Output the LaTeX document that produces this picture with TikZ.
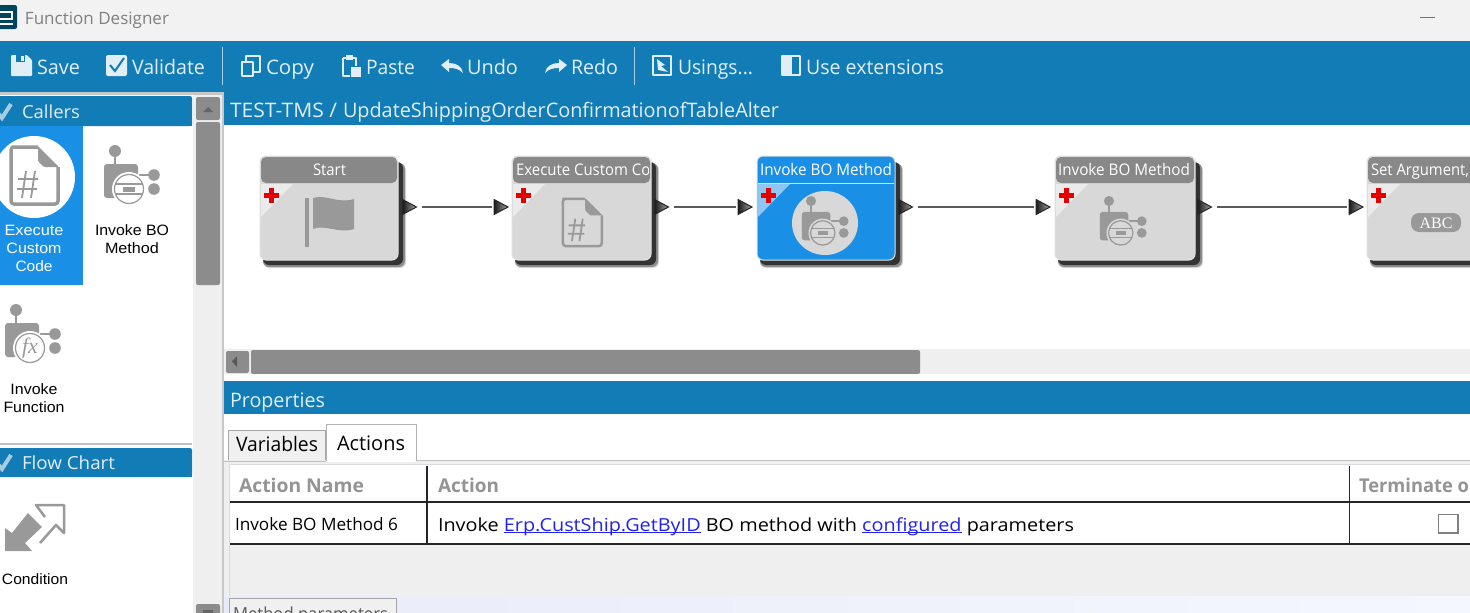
\documentclass[tikz,border=0pt]{standalone}
\usepackage{fontspec}
\usepackage{graphicx}
\setmainfont{Open Sans}
\newfontfamily\arialf{Liberation Sans}
\newfontfamily\timesf{Liberation Serif}
\usetikzlibrary{shapes.geometric}
\definecolor{barblue}{HTML}{127CB7}
\definecolor{selblue}{HTML}{1A8FE6}
\definecolor{iconA}{HTML}{999999}
\definecolor{panelg}{HTML}{EFEFEF}
\definecolor{thumbg}{HTML}{8C8C8C}
\definecolor{cardg}{HTML}{D8D8D8}
\definecolor{headg}{HTML}{888888}
\definecolor{paleT}{HTML}{E2EEF5}
\definecolor{linkb}{HTML}{2222EE}
\definecolor{lav}{HTML}{E9ECF8}
\definecolor{lavb}{HTML}{F4F7FD}
\newcommand{\fitw}[2]{\resizebox{#1pt}{\height}{#2}}
\newcommand{\fs}[1]{\fontsize{#1}{#1}\selectfont}
\newcommand{\linku}[1]{\setbox0\hbox{#1}\rlap{\rule[-2pt]{\wd0}{0.9pt}}\box0}
\tikzset{
  lbl/.style={inner sep=0pt,outer sep=0pt,anchor=base west,font=\fs{20}},
  pal/.style={inner sep=0pt,outer sep=0pt,anchor=base,font=\arialf\fs{15}},
  cardtitle/.style={inner sep=0pt,outer sep=0pt,anchor=base west,font=\fs{16},text=white},
  port/.style={isosceles triangle,isosceles triangle stretches,minimum height=14pt,minimum width=15pt,inner sep=0pt,outer sep=2pt,draw=black!85,line width=1pt,left color=black!90,right color=black!35},
  wire/.style={draw=black!65,line width=1.6pt},
  btn/.style={fill=thumbg,rounded corners=2pt},
  ticon/.style={draw=paleT,line width=1.6pt,line join=round},
  tfill/.style={fill=paleT}
}
% BO-type icon: origin at the top ball, centre of ball
\newcommand{\roboticon}[4]{% x y scale colour
  \begin{scope}[shift={(#1,#2)},scale=#3]
    \fill[#4] (0,0) circle (6);
    \draw[#4,line width=2pt] (0,5) -- (0,13);
    \fill[#4,rounded corners=3pt] (-11,13) rectangle (23,47);
    \draw[#4,line width=1.4pt] (24,24) -- (36,24);
    \fill[#4] (39,24) circle (5.8);
    \fill[#4] (39,38) circle (5.8);
  \end{scope}}
\newcommand{\ringover}[4]{% x y scale backcolour
  \begin{scope}[shift={(#1,#2)},scale=#3]
    \fill[#4] (14,38) circle (17);
    \draw[iconA,line width=1.2pt] (14,38) circle (14.5);
  \end{scope}}
\newcommand{\boinner}[3]{%
  \begin{scope}[shift={(#1,#2)},scale=#3]
    \draw[iconA,line width=1.2pt] (1,33) -- (27,33) (1,43) -- (27,43);
    \fill[iconA] (8,35.5) rectangle (20,40.5);
  \end{scope}}
\newcommand{\docicon}[4]{% x y scale width
  \begin{scope}[shift={(#1,#2)},scale=#3]
    \draw[iconA,line width=#4,line join=round,rounded corners=3pt] (28,1) -- (5,1) -- (1,1) -- (1,58) -- (48,58) -- (48,21);
    \fill[iconA,rounded corners=1pt] (28,0) -- (28,15) -- (34,21) -- (49,21) -- cycle;
    \draw[iconA,line width=1.8pt] (16,25) -- (12,52) (25,25) -- (21,52) (8,33) -- (28,33) (7,43) -- (27,43);
  \end{scope}}
\newcommand{\redcross}[2]{%
  \fill[red!90!black] (#1-7.5,#2-2.5) rectangle (#1+7.5,#2+2.5);
  \fill[red!90!black] (#1-2.5,#2-7.5) rectangle (#1+2.5,#2+7.5);}
% card: name, left, right, body colour, header colour, triangle colour
\newcommand{\cardbox}[6]{%
  \fill[black!15,rounded corners=6pt] (#2+3,164) rectangle (#3+8,268);
  \fill[black!45,rounded corners=6pt] (#2+3,163) rectangle (#3+7,267);
  \fill[black!80,rounded corners=6pt] (#2+3,162) rectangle (#3+5,265);
  \node[draw=black!12,line width=1pt,fill=#4,rounded corners=6pt,inner sep=0pt,minimum width=#3pt-#2pt,minimum height=104pt] (#1) at ({(#2+#3)/2},208) {};
  \fill[#5,rounded corners=5pt] (#2+1,157) -- (#3-1,157) -- (#3-1,183) -- (#2+1,183) -- cycle;
  \fill[#6] (#2+1,184) -- (#2+33,184) -- (#2+1,217) -- cycle;
  \redcross{#2+11}{195}}
\newcommand{\checkmk}[1]{\draw[paleT!70!barblue,line width=4pt] (-3,#1) -- (2,#1+6) -- (11,#1-8);}
\begin{document}
\begin{tikzpicture}[x=1pt,y=-1pt]
\useasboundingbox (0,0) rectangle (1470,613);
\clip (0,0) rectangle (1470,613);
% ---- window areas
\fill[white] (0,0) rectangle (1470,613);
\fill[black!5] (0,0) rectangle (1470,41);
\fill[barblue] (0,41) rectangle (1470,125);
% logo
\fill[teal!60!black!90!blue,rounded corners=2pt] (-4,5) rectangle (17,29);
\draw[white,line width=2.5pt] (-2,12) -- (12,12) -- (12,19) -- (-2,19) (-2,24) -- (13,24);
\node[lbl,font=\fs{17},text=black!50] (title) at (25,24) {\fitw{144}{Function Designer}};
\draw[black!55,line width=1pt] (1420,17) -- (1435,17);
% left panel
\fill[black!22] (0,92) rectangle (224,613);
\fill[white] (0,95) rectangle (193,613);
\fill[panelg] (193,95) rectangle (222,613);
\fill[barblue,rounded corners=2pt] (-4,96) rectangle (192,126);
\fill[barblue] (-4,110) rectangle (192,126);
\fill[selblue] (0,126) rectangle (83,285);
\fill[white] (34,177) circle (41);
\docicon{10}{146}{1}{3.5pt}
\node[pal,text=white] (p1a) at (34,235) {\fitw{59}{Execute}};
\node[pal,text=white] (p1b) at (34,253) {\fitw{55}{Custom}};
\node[pal,text=white] (p1c) at (34,271) {\fitw{37}{Code}};
\roboticon{115}{151}{1}{iconA}
\ringover{115}{151}{1}{white}
\boinner{115}{151}{1}
\node[pal] (p2a) at (132,235) {\fitw{74}{Invoke BO}};
\node[pal] (p2b) at (132,253) {\fitw{54}{Method}};
\roboticon{16}{310}{1}{iconA}
\ringover{16}{310}{1}{white}
\node[inner sep=0pt,font=\timesf\itshape\fs{22},text=iconA] (fx) at (30,348) {fx};
\node[pal] (p3a) at (34,394) {\fitw{47}{Invoke}};
\node[pal] (p3b) at (34,412) {\fitw{61}{Function}};
\draw[blue!20!black!25,line width=1.5pt] (0,444) -- (192,444);
\fill[barblue,rounded corners=2pt] (-4,448) rectangle (192,477);
\fill[barblue] (-4,462) rectangle (192,477);
\fill[iconA] (5,551) -- (5,528) -- (12,533) -- (28,513) -- (42,527) -- (25,543) -- (32,551) -- cycle;
\draw[iconA,line width=2.5pt,line join=round] (45,517) -- (36,505) -- (64,505) -- (64,533) -- (56,525) -- (40,543);
\node[pal] (p4) at (35,584) {\fitw{66}{Condition}};
\checkmk{112}
\node[lbl,font=\fs{18},text=paleT] (callers) at (22,118) {\fitw{58}{Callers}};
\checkmk{463}
\node[lbl,font=\fs{18},text=paleT] (flow) at (22,469) {\fitw{93}{Flow Chart}};
% vertical scrollbar
\fill[btn] (196,97) rectangle (220,120);
\fill[black!60] (203,112) -- (213,112) -- (208,107) -- cycle;
\fill[btn] (196,122) rectangle (220,285);
\fill[btn] (196,604) rectangle (220,620);
\fill[black!60] (203,610) rectangle (213,613);
% toolbar
\fill[tfill,rounded corners=1pt] (11,55) -- (27,55) -- (32,60) -- (32,76) -- (11,76) -- cycle;
\fill[barblue] (16,55) rectangle (25,62);
\fill[paleT] (21,56) rectangle (24,61);
\node[lbl,text=paleT] (save) at (37,74) {\fitw{43}{Save}};
\fill[tfill,rounded corners=2pt] (106,55) rectangle (127,76);
\draw[barblue,line width=2pt] (110,65) -- (115,71) -- (124,58);
\node[lbl,text=paleT] (validate) at (132,74) {\fitw{73}{Validate}};
\draw[paleT!70!barblue,line width=1pt] (222,47) -- (222,85);
\draw[ticon] (246,62) -- (246,56) -- (260,56) -- (260,72) -- (254,72);
\draw[ticon] (242,62) -- (253,62) -- (253,76) -- (242,76) -- cycle;
\node[lbl,text=paleT] (copy) at (266,74) {\fitw{48}{Copy}};
\draw[ticon] (343,58) -- (356,58) -- (356,66) (343,58) -- (343,76) -- (350,76);
\fill[tfill] (346,55) rectangle (353,60);
\fill[tfill] (351,67) rectangle (361,77);
\node[lbl,text=paleT] (paste) at (366,74) {\fitw{49}{Paste}};
\fill[tfill] (441,65) -- (449,59) -- (449,63) .. controls (456,63) and (462,66) .. (463,73) .. controls (459,69) and (455,68) .. (449,68) -- (449,72) -- cycle;
\node[lbl,text=paleT] (undo) at (467,74) {\fitw{51}{Undo}};
\fill[tfill] (567,65) -- (559,59) -- (559,63) .. controls (552,63) and (546,66) .. (545,73) .. controls (549,69) and (553,68) .. (559,68) -- (559,72) -- cycle;
\node[lbl,text=paleT] (redo) at (571,74) {\fitw{47}{Redo}};
\draw[paleT!70!barblue,line width=1pt] (634,47) -- (634,85);
\draw[ticon] (653,56) rectangle (671,75);
\fill[tfill] (657,59) -- (665,65) -- (661,66) -- (668,72) -- (658,70) -- cycle;
\node[lbl,text=paleT] (usings) at (678,74) {\fitw{75}{Usings...}};
\draw[ticon] (782,56) rectangle (800,75);
\fill[tfill] (782,56) rectangle (792,75);
\node[lbl,text=paleT] (ext) at (806,74) {\fitw{138}{Use extensions}};
\node[lbl,font=\fs{20},text=paleT] (crumb) at (230,117) {\fitw{107}{TEST-TMS /}\hspace{6pt}\fitw{436}{UpdateShippingOrderConfirmationofTableAlter}};
% canvas
\fill[white] (224,125) rectangle (1470,349);
\fill[panelg] (224,349) rectangle (1470,374);
\fill[btn] (226,351) rectangle (249,373);
\fill[black!65] (237,356) -- (237,367) -- (232,361.5) -- cycle;
\fill[btn] (251,350) rectangle (920,374);
% cards
\cardbox{c1}{260}{398}{cardg}{headg}{black!8}
\cardbox{c2}{512}{651}{cardg}{headg}{black!8}
\cardbox{c3}{757}{895}{selblue}{selblue}{selblue!50!white}
\draw[white!75!selblue,line width=1pt] (758,183.5) -- (894,183.5);
\cardbox{c4}{1055}{1195}{cardg}{headg}{black!8}
\cardbox{c5}{1367}{1510}{cardg}{headg}{black!8}
% titles
\node[cardtitle] (t1) at (313,175.5) {\fitw{33}{Start}};
\begin{scope}
  \clip (514,158) rectangle (648,182);
  \node[cardtitle] (t2) at (516,175.5) {\fitw{152}{Execute Custom Code}};
\end{scope}
\node[cardtitle] (t3) at (760,175.5) {\fitw{132}{Invoke BO Method}};
\node[cardtitle] (t4) at (1058,175.5) {\fitw{132}{Invoke BO Method}};
\node[cardtitle] (t5) at (1371,175.5) {\fitw{98}{Set Argument,}};
% card icons
\fill[iconA] (305,198) rectangle (309,247);
\fill[iconA] (313,198) .. controls (326,194) and (338,204) .. (354,199) -- (354,229) .. controls (338,234) and (326,224) .. (313,229) -- cycle;
\docicon{562}{198}{0.83}{2.5pt}
\fill[cardg] (825,223) ellipse (33 and 32);
\roboticon{811}{201}{0.84}{iconA}
\ringover{811}{201}{0.84}{cardg}
\boinner{811}{201}{0.84}
\roboticon{1109}{201}{0.84}{iconA}
\ringover{1109}{201}{0.84}{cardg}
\boinner{1109}{201}{0.84}
\fill[iconA,rounded corners=8pt] (1411,213) rectangle (1461,232);
\node[inner sep=0pt,font=\timesf\fs{16},text=white] (abc) at (1436,223) {ABC};
% ports and connectors
\node[port] (o1) at (407,207) {};
\node[port] (i2) at (498.5,207) {};
\node[port] (o2) at (659,207) {};
\node[port] (i3) at (742.5,207) {};
\node[port] (o3) at (903,207) {};
\node[port] (i4) at (1040.5,207) {};
\node[port] (o4) at (1202,207) {};
\node[port] (i5) at (1353.5,207) {};
\draw[wire] (o1) -- (i2);
\draw[wire] (o2) -- (i3);
\draw[wire] (o3) -- (i4);
\draw[wire] (o4) -- (i5);
% properties
\fill[white] (224,374) rectangle (1470,381);
\fill[barblue] (224,381) rectangle (1470,414);
\fill[white] (224,414) rectangle (1470,596);
\node[lbl,text=paleT] (props) at (230,407) {\fitw{95}{Properties}};
\fill[panelg] (224,460) rectangle (1470,596);
\draw[black!25,line width=1pt] (416,460.5) -- (1470,460.5);
\draw[black!35,fill=black!6,line width=1pt] (228,460) -- (228,430) -- (325,430) -- (325,460);
\node[lbl] (tv) at (236,451) {\fitw{82}{Variables}};
\draw[black!30,fill=white,line width=1pt] (326,461) -- (326,424) -- (416,424) -- (416,461);
\fill[white] (327,459) rectangle (415,462);
\node[lbl] (ta) at (337,450) {\fitw{68}{Actions}};
\draw[black!25,line width=1pt] (224,461) -- (326,461);
% table
\fill[white] (230,464) rectangle (1470,544);
\draw[blue!15!black!15,line width=1pt] (229,464) -- (1470,464);
\draw[blue!15!black!15,line width=1pt] (229.5,464) -- (229.5,596);
\draw[black!85,line width=1.2pt] (230,502) -- (1470,502) (230,544) -- (1470,544) (427,466) -- (427,544) (1349.5,466) -- (1349.5,544);
\node[lbl,font=\bfseries\fs{19},text=black!42] (h1) at (239,492) {\fitw{125}{Action Name}};
\node[lbl,font=\bfseries\fs{19},text=black!42] (h2) at (438,492) {\fitw{61}{Action}};
\node[lbl,font=\bfseries\fs{19},text=black!42] (h3) at (1359,492) {\fitw{110}{Terminate o}};
\node[lbl,font=\fs{17}] (r1) at (235,530) {\fitw{163}{Invoke BO Method 6}};
\node[lbl,font=\fs{18}] (r2) at (438,531) {\fitw{636}{Invoke {\color{linkb}\linku{Erp.CustShip.GetByID}} BO method with {\color{linkb}\linku{configured}} parameters}};
\draw[black!50,fill=white,line width=1.3pt] (1438.5,514.5) rectangle (1458,533);
% bottom strip
\shade[left color=lav,right color=lavb] (224,596) rectangle (1470,613);
\draw[black!35,fill=black!6,line width=1pt] (229,620) -- (229,598) -- (396,598) -- (396,620);
\begin{scope}
  \clip (230,599) rectangle (395,613);
  \node[lbl,font=\fs{18},text=black!65] (mp) at (233,620) {\fitw{155}{Method parameters}};
\end{scope}
\end{tikzpicture}
\end{document}
